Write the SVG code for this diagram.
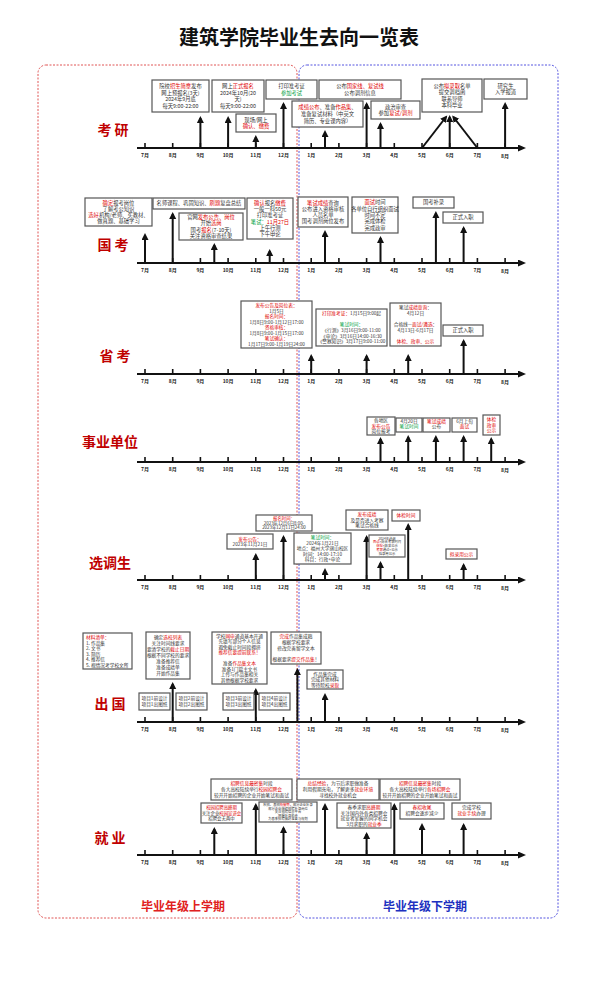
<svg xmlns="http://www.w3.org/2000/svg" width="599" height="999" viewBox="0 0 599 999">
<defs>
<style>
.t{font-family:"Noto Sans CJK SC","Noto Sans",sans-serif;font-size:5.3px;fill:#333;text-anchor:middle}
.s{font-size:4.7px}
.xs{font-size:3.3px}
.r{fill:#e00000}
.g{fill:#00a040}
.bx{fill:#fff;stroke:#555;stroke-width:1.2}
.ax{stroke:#111;stroke-width:2;fill:none}
.tk{stroke:#111;stroke-width:1.6}
.ar{stroke:#111;stroke-width:2;fill:none;marker-end:url(#ah)}
.ml{font-family:"Noto Sans CJK SC",sans-serif;font-size:5px;font-weight:700;fill:#222;text-anchor:middle}
.rl{font-family:"Noto Sans CJK SC",serif;font-size:14px;font-weight:700;fill:#c00000;text-anchor:middle}
</style>
<marker id="ah" markerWidth="8" markerHeight="8" refX="5" refY="3.5" orient="auto" markerUnits="userSpaceOnUse"><path d="M0,0 L7,3.5 L0,7 z" fill="#111"/></marker>
<marker id="axh" markerWidth="9" markerHeight="8" refX="2" refY="3.5" orient="auto" markerUnits="userSpaceOnUse"><path d="M0,0 L8,3.5 L0,7 z" fill="#111"/></marker>
<g id="axis">
<line class="ax" x1="137" y1="0" x2="520" y2="0" marker-end="url(#axh)"/>
<g class="tk"><line x1="145" y1="-5" x2="145" y2="0"/><line x1="172.7" y1="-5" x2="172.7" y2="0"/><line x1="200.4" y1="-5" x2="200.4" y2="0"/><line x1="228.1" y1="-5" x2="228.1" y2="0"/><line x1="255.8" y1="-5" x2="255.8" y2="0"/><line x1="283.5" y1="-5" x2="283.5" y2="0"/><line x1="311.2" y1="-5" x2="311.2" y2="0"/><line x1="338.9" y1="-5" x2="338.9" y2="0"/><line x1="366.6" y1="-5" x2="366.6" y2="0"/><line x1="394.3" y1="-5" x2="394.3" y2="0"/><line x1="422" y1="-5" x2="422" y2="0"/><line x1="449.7" y1="-5" x2="449.7" y2="0"/><line x1="477.4" y1="-5" x2="477.4" y2="0"/><line x1="505.1" y1="-5" x2="505.1" y2="0"/></g>
<g class="ml"><text x="145" y="9">7月</text><text x="172.7" y="9">8月</text><text x="200.4" y="9">9月</text><text x="228.1" y="9">10月</text><text x="255.8" y="9">11月</text><text x="283.5" y="9">12月</text><text x="311.2" y="9">1月</text><text x="338.9" y="9">2月</text><text x="366.6" y="9">3月</text><text x="394.3" y="9">4月</text><text x="422" y="9">5月</text><text x="449.7" y="9">6月</text><text x="477.4" y="9">7月</text><text x="505.1" y="10">8月</text></g>
</g>
</defs>
<rect width="599" height="999" fill="#fff"/>
<text x="299" y="45" font-family="Noto Sans CJK SC,sans-serif" font-size="20" font-weight="700" fill="#111" text-anchor="middle">建筑学院毕业生去向一览表</text>
<g id="semesters">
<rect x="38" y="65" width="259" height="853" rx="8" fill="none" stroke="#e05555" stroke-width="1" stroke-dasharray="2,1.5"/>
<rect x="299" y="65" width="259" height="853" rx="8" fill="none" stroke="#5555e0" stroke-width="1" stroke-dasharray="2,1.5"/>
<text x="183" y="911" font-family="Noto Sans CJK SC,sans-serif" font-size="12" font-weight="700" fill="#e02020" text-anchor="middle">毕业年级上学期</text>
<text x="425" y="911" font-family="Noto Sans CJK SC,sans-serif" font-size="12" font-weight="700" fill="#2030c0" text-anchor="middle">毕业年级下学期</text>
</g>
<g id="row-labels">
<text class="rl" x="113" y="135">考 研</text>
<text class="rl" x="113" y="250">国 考</text>
<text class="rl" x="115" y="361">省 考</text>
<text class="rl" x="110" y="447">事业单位</text>
<text class="rl" x="110" y="568">选调生</text>
<text class="rl" x="110" y="709">出 国</text>
<text class="rl" x="110" y="843">就 业</text>
</g>
<g id="timelines">
<use href="#axis" x="0" y="148"/>
<use href="#axis" x="0" y="263"/>
<use href="#axis" x="0" y="374"/>
<use href="#axis" x="0" y="462"/>
<use href="#axis" x="0" y="580"/>
<use href="#axis" x="0" y="722"/>
<use href="#axis" x="0" y="855"/>
</g>
<g id="connectors">
<line class="ar" x1="200.4" y1="148" x2="200.4" y2="118"/>
<line class="ar" x1="228.1" y1="148" x2="228.1" y2="118"/>
<line class="ar" x1="255.8" y1="148" x2="255.8" y2="137"/>
<line class="ar" x1="283.5" y1="148" x2="283.5" y2="104"/>
<line class="ar" x1="325" y1="148" x2="325" y2="132"/>
<line class="ar" x1="366.6" y1="148" x2="366.6" y2="104"/>
<line class="ar" x1="380.5" y1="148" x2="380.5" y2="124"/>
<line class="ar" x1="422" y1="148" x2="446" y2="117"/>
<line class="ar" x1="449.7" y1="148" x2="449.7" y2="117"/>
<line class="ar" x1="477.4" y1="148" x2="453.4" y2="117"/>
<line class="ar" x1="505.1" y1="148" x2="505.1" y2="104"/>
<line class="ar" x1="145" y1="263" x2="145" y2="235"/>
<line class="ar" x1="172.7" y1="263" x2="172.7" y2="214"/>
<line class="ar" x1="214.3" y1="263" x2="214.3" y2="245"/>
<line class="ar" x1="269.7" y1="263" x2="269.7" y2="251"/>
<line class="ar" x1="325" y1="263" x2="325" y2="232"/>
<line class="ar" x1="380.5" y1="263" x2="380.5" y2="238"/>
<line class="ar" x1="435.9" y1="263" x2="435.9" y2="213"/>
<line class="ar" x1="463.6" y1="263" x2="463.6" y2="228"/>
<line class="ar" x1="311.2" y1="374" x2="311.2" y2="356"/>
<line class="ar" x1="366.6" y1="374" x2="366.6" y2="356"/>
<line class="ar" x1="408.2" y1="374" x2="408.2" y2="356"/>
<line class="ar" x1="463.6" y1="374" x2="463.6" y2="341"/>
<line class="ar" x1="380.5" y1="462" x2="380.5" y2="439"/>
<line class="ar" x1="408.2" y1="462" x2="408.2" y2="437"/>
<line class="ar" x1="435.9" y1="462" x2="435.9" y2="437"/>
<line class="ar" x1="463.6" y1="462" x2="463.6" y2="437"/>
<line class="ar" x1="491.2" y1="462" x2="491.2" y2="439"/>
<line class="ar" x1="255.8" y1="580" x2="255.8" y2="555"/>
<line class="ar" x1="283.5" y1="580" x2="283.5" y2="537"/>
<line class="ar" x1="325" y1="580" x2="325" y2="570"/>
<line class="ar" x1="366.6" y1="580" x2="366.6" y2="537"/>
<line class="ar" x1="380.5" y1="580" x2="380.5" y2="563"/>
<line class="ar" x1="408.2" y1="580" x2="408.2" y2="525"/>
<line class="ar" x1="463.6" y1="580" x2="463.6" y2="565"/>
<line class="ar" x1="172.7" y1="722" x2="172.7" y2="684"/>
<line class="ar" x1="255.8" y1="722" x2="255.8" y2="690"/>
<line class="ar" x1="297.4" y1="722" x2="297.4" y2="670"/>
<line class="ar" x1="325" y1="722" x2="325" y2="695"/>
<line class="ar" x1="214.3" y1="855" x2="214.3" y2="829"/>
<line class="ar" x1="255.8" y1="855" x2="255.8" y2="805"/>
<line class="ar" x1="283.5" y1="855" x2="283.5" y2="828"/>
<line class="ar" x1="325" y1="855" x2="325" y2="805"/>
<line class="ar" x1="366.6" y1="855" x2="366.6" y2="834"/>
<line class="ar" x1="394.3" y1="855" x2="394.3" y2="805"/>
<line class="ar" x1="422" y1="855" x2="422" y2="825"/>
<line class="ar" x1="463.6" y1="855" x2="463.6" y2="825"/>
</g>
<!-- 考研 -->
<g id="ky-1"><rect class="bx" x="152" y="80" width="57" height="32"/><text class="t"><tspan x="180.5" y="88">院校<tspan class="r">招生简章</tspan>发布</tspan><tspan x="180.5" y="94.6">网上预报名(3天)</tspan><tspan x="180.5" y="101.2">2024年9月底</tspan><tspan x="180.5" y="107.8">每天9:00-22:00</tspan></text></g>
<g id="ky-2"><rect class="bx" x="212" y="80" width="52" height="32"/><text class="t"><tspan x="238" y="88">网上<tspan class="r">正式报名</tspan></tspan><tspan x="238" y="94.6">2024年10月(20</tspan><tspan x="238" y="101.2">天)</tspan><tspan x="238" y="107.8">每天9:00-22:00</tspan></text></g>
<g id="ky-3"><rect class="bx" x="236" y="114" width="40" height="18"/><text class="t"><tspan x="256" y="121.6">现场/网上</tspan><tspan x="256" y="128.2" class="r">确认、缴费</tspan></text></g>
<g id="ky-4"><rect class="bx" x="266" y="80" width="51" height="19"/><text class="t"><tspan x="291.5" y="88.1">打印准考证</tspan><tspan x="291.5" y="94.7" class="g">参加考试</tspan></text></g>
<g id="ky-5"><rect class="bx" x="292" y="101" width="71" height="26"/><text class="t"><tspan x="327.5" y="109.3"><tspan class="r">成绩公布</tspan>、准备<tspan class="r">作品集</tspan>、</tspan><tspan x="327.5" y="115.9">准备复试材料（中英文</tspan><tspan x="327.5" y="122.5">简历、专业课内容）</tspan></text></g>
<g id="ky-6"><rect class="bx" x="319" y="80" width="82" height="19"/><text class="t"><tspan x="360" y="88.1">公布<tspan class="r">国家线、复试线</tspan></tspan><tspan x="360" y="94.7">公布调剂信息</tspan></text></g>
<g id="ky-7"><rect class="bx" x="371" y="101" width="49" height="18"/><text class="t"><tspan x="395.5" y="108.6">政治审查</tspan><tspan x="395.5" y="115.2">参加<tspan class="r">复试/调剂</tspan></tspan></text></g>
<g id="ky-8"><rect class="bx" x="422" y="79" width="60" height="33"/><text class="t"><tspan x="452" y="87.5">公布<tspan class="r">拟录取</tspan>名单</tspan><tspan x="452" y="94.1">提交调档函</tspan><tspan x="452" y="100.7">联系导师</tspan><tspan x="452" y="107.3">本科毕业</tspan></text></g>
<g id="ky-9"><rect class="bx" x="484" y="79" width="43" height="20"/><text class="t"><tspan x="505.5" y="87.6">研究生</tspan><tspan x="505.5" y="94.2">入学报道</tspan></text></g>
<!-- 国考 -->
<g id="gk-1"><rect class="bx" x="85" y="198" width="67" height="28"/><text class="t"><tspan x="118.5" y="204.5"><tspan class="r">确定</tspan>报考岗位</tspan><tspan x="118.5" y="210.8">了解考公知识</tspan><tspan x="118.5" y="217.1"><tspan class="r">选好</tspan>机构/老师、买教材、</tspan><tspan x="118.5" y="223.4">做真题、基础学习</tspan></text></g>
<g id="gk-2"><rect class="bx" x="153" y="198" width="92" height="11"/><text class="t"><tspan x="199" y="205.4">名师课程、巩固知识、<tspan class="r">刷题</tspan>复盘总结</tspan></text></g>
<g id="gk-3"><rect class="bx" x="179" y="213" width="64" height="27"/><text class="t"><tspan x="211" y="219.1">官网<tspan class="r">发布公告、岗位</tspan></tspan><tspan x="211" y="225.3">开始<tspan class="r">选岗</tspan></tspan><tspan x="211" y="231.5">国考<tspan class="r">报名</tspan>(7-10天)</tspan><tspan x="211" y="237.7">关注资格审查结果</tspan></text></g>
<g id="gk-4"><rect class="bx" x="247" y="198" width="46" height="41"/><text class="t"><tspan x="270" y="204.7"><tspan class="r">确认</tspan>报名<tspan class="r">缴费</tspan></tspan><tspan x="270" y="211">一般一科50元</tspan><tspan x="270" y="217.3">打印准考证</tspan><tspan x="270" y="223.6"><tspan class="g">笔试：</tspan><tspan class="r">11月27日</tspan></tspan><tspan x="270" y="229.9">上午行测</tspan><tspan x="270" y="236.2">下午申论</tspan></text></g>
<g id="gk-5"><rect class="bx" x="298" y="197" width="50" height="30"/><text class="t"><tspan x="323" y="204.5"><tspan class="r">笔试成绩</tspan>查询</tspan><tspan x="323" y="210.8">公布进入资格审核</tspan><tspan x="323" y="217.1">人员名单</tspan><tspan x="323" y="223.4">国考调剂岗位发布</tspan></text></g>
<g id="gk-6"><rect class="bx" x="352" y="197" width="46" height="36"/><text class="t"><tspan x="375" y="204.3"><tspan class="r">面试</tspan>时间</tspan><tspan x="375" y="210.6">各单位自行组织面试</tspan><tspan x="375" y="216.9">时间不定</tspan><tspan x="375" y="223.2">完成体检</tspan><tspan x="375" y="229.5">完成政审</tspan></text></g>
<g id="gk-7"><rect class="bx" x="413" y="197" width="41" height="11"/><text class="t"><tspan x="433.5" y="204.4">国考补录</tspan></text></g>
<g id="gk-8"><rect class="bx" x="443" y="212" width="40" height="11"/><text class="t"><tspan x="463" y="219.4">正式入职</tspan></text></g>
<!-- 省考 -->
<g id="sk-1"><rect class="bx" x="241" y="301" width="71" height="47"/><text class="t s"><tspan x="276.5" y="307" class="r">发布公告及岗位表：</tspan><tspan x="276.5" y="312.5">1月5日</tspan><tspan x="276.5" y="318" class="r">报名时间：</tspan><tspan x="276.5" y="323.5">1月8日9:00-1月12日17:00</tspan><tspan x="276.5" y="329" class="r">资格审核：</tspan><tspan x="276.5" y="334.5">1月8日9:00-1月15日17:00</tspan><tspan x="276.5" y="340" class="r">笔试确认：</tspan><tspan x="276.5" y="345.5">1月17日9:00-1月19日24:00</tspan></text></g>
<g id="sk-2"><rect class="bx" x="316" y="309" width="71" height="37"/><text class="t s"><tspan x="351.5" y="315.2"><tspan class="r">打印准考证：</tspan>1月15日9:00起</tspan><tspan x="351.5" y="326.4" class="g">笔试时间：</tspan><tspan x="351.5" y="332">《行测》3月16日9:00-11:00</tspan><tspan x="351.5" y="337.6">《申论》3月16日14:00-16:30</tspan><tspan x="351.5" y="343.2">《警察知识》3月17日9:00-11:00</tspan></text></g>
<g id="sk-3"><rect class="bx" x="390" y="303" width="51" height="43"/><text class="t s"><tspan x="415.5" y="309.4">笔试<tspan class="r">成绩查询</tspan>：</tspan><tspan x="415.5" y="315">4月12日</tspan><tspan x="415.5" y="326.2">合格线—<tspan class="r">面试/遴选</tspan>：</tspan><tspan x="415.5" y="331.8">4月13日-6月17日</tspan><tspan x="415.5" y="343" class="r">体检、政审、公示</tspan></text></g>
<g id="sk-4"><rect class="bx" x="443" y="325" width="40" height="11"/><text class="t"><tspan x="463" y="332.4">正式入职</tspan></text></g>
<!-- 事业单位 -->
<g id="sy-1"><rect class="bx" x="367" y="417" width="28" height="18"/><text class="t s"><tspan x="381" y="422.3">各地区</tspan><tspan x="381" y="427.6" class="r">发布公告</tspan><tspan x="381" y="432.9">岗位报考</tspan></text></g>
<g id="sy-2"><rect class="bx" x="396" y="418" width="26" height="14"/><text class="t s"><tspan x="409" y="423">4月20日</tspan><tspan x="409" y="428.3" class="g">笔试时间</tspan></text></g>
<g id="sy-3"><rect class="bx" x="423" y="418" width="27" height="14"/><text class="t s"><tspan x="436.5" y="423" class="r">笔试成绩</tspan><tspan x="436.5" y="428.3">公布</tspan></text></g>
<g id="sy-4"><rect class="bx" x="452" y="418" width="25" height="14"/><text class="t s"><tspan x="464.5" y="423">6月上旬</tspan><tspan x="464.5" y="428.3" class="r">面试</tspan></text></g>
<g id="sy-5"><rect class="bx" x="483" y="415" width="17" height="20"/><text class="t s r"><tspan x="491.5" y="421.3">体检</tspan><tspan x="491.5" y="426.6">政审</tspan><tspan x="491.5" y="431.9">公示</tspan></text></g>
<!-- 选调生 -->
<g id="xd-1"><rect class="bx" x="227" y="534" width="46" height="15"/><text class="t s"><tspan x="250" y="540.5" class="r">发布公告：</tspan><tspan x="250" y="545.8">2023年11月21日</tspan></text></g>
<g id="xd-2"><rect class="bx" x="256" y="515" width="56" height="16"/><text class="t" style="font-size:4.4px"><tspan x="284" y="519.7" class="r">报名时间：</tspan><tspan x="284" y="524.5">2023年12月6日8:00-</tspan><tspan x="284" y="529.3">2023年12月11日24:00</tspan></text></g>
<g id="xd-3"><rect class="bx" x="294" y="533" width="57" height="31"/><text class="t s"><tspan x="322.5" y="539" class="g">笔试时间：</tspan><tspan x="322.5" y="544.6">2024年1月21日</tspan><tspan x="322.5" y="550.2">地点：福州大学旗山校区</tspan><tspan x="322.5" y="555.8">时间：14:00-17:10</tspan><tspan x="322.5" y="561.4">科目：行政+申论</tspan></text></g>
<g id="xd-4"><rect class="bx" x="346" y="510" width="42" height="20"/><text class="t s"><tspan x="367" y="516.2" class="r">发布成绩</tspan><tspan x="367" y="521.7">及是否进入考察</tspan><tspan x="367" y="527.2">笔试合格线</tspan></text></g>
<g id="xd-5"><rect class="bx" x="369" y="535" width="36" height="22"/><text class="t xs"><tspan x="387" y="539.6">2024年选调</tspan><tspan x="387" y="543.4"><tspan class="r">面试</tspan>+综合考察时间</tspan><tspan x="387" y="547.2"><tspan class="r">体检</tspan>+结果公示</tspan><tspan x="387" y="551"><tspan class="r">考察</tspan>通过+公示</tspan><tspan x="387" y="554.8">拟录用公示</tspan></text></g>
<g id="xd-6"><rect class="bx" x="392" y="510" width="28" height="11"/><text class="t s"><tspan x="406" y="517.2" class="r">体检时间</tspan></text></g>
<g id="xd-7"><rect class="bx" x="446" y="549" width="31" height="10"/><text class="t s"><tspan x="461.5" y="555.7" class="r">拟录用公示</tspan></text></g>
<!-- 出国 -->
<g id="cg-1"><rect class="bx" x="83" y="633" width="49" height="36"/><text class="t s" style="text-anchor:start"><tspan x="86" y="639" class="r">材料清单：</tspan><tspan x="86" y="644.5">1. 作品集</tspan><tspan x="86" y="650">2. 文书</tspan><tspan x="86" y="655.5">3. 简历</tspan><tspan x="86" y="661">4. 推荐信</tspan><tspan x="86" y="666.5">5. 视情况考学校文所</tspan></text></g>
<g id="cg-2"><rect class="bx" x="146" y="632" width="44" height="47"/><text class="t s"><tspan x="168" y="639.2">确定<tspan class="r">选校列表</tspan></tspan><tspan x="168" y="645.2">关注时间线要求</tspan><tspan x="168" y="651.2">要清学校的<tspan class="r">截止日期</tspan></tspan><tspan x="168" y="657.2">根据不同学校的要求</tspan><tspan x="168" y="663.2">准备推荐信</tspan><tspan x="168" y="669.2">准备成绩单</tspan><tspan x="168" y="675.2">开始作品集</tspan></text></g>
<g id="cg-3"><rect class="bx" x="212" y="632" width="55" height="52"/><text class="t s"><tspan x="239.5" y="637.7">学校<tspan class="r">网申</tspan>通道基本开通</tspan><tspan x="239.5" y="643.2">先填写部分个人信息</tspan><tspan x="239.5" y="648.7">避免截止时间段拥挤</tspan><tspan x="239.5" y="654.2" class="r">推荐信要提前联系！</tspan><tspan x="239.5" y="665.2">准备<tspan class="r">作品集文本</tspan></tspan><tspan x="239.5" y="670.7">准备1门篇主文书</tspan><tspan x="239.5" y="676.2">上传与作品集相关</tspan><tspan x="239.5" y="681.7">其他根据学校要求</tspan></text></g>
<g id="cg-4"><rect class="bx" x="271" y="632" width="50" height="32"/><text class="t s"><tspan x="296" y="638.1"><tspan class="r">完成</tspan>作品集成稿</tspan><tspan x="296" y="643.9">根据学校要求</tspan><tspan x="296" y="649.7">修改完善留学文本</tspan><tspan x="296" y="661.3">根据要求<tspan class="r">提交作品集</tspan>！</tspan></text></g>
<g id="cg-5"><rect class="bx" x="307" y="670" width="36" height="19"/><text class="t s"><tspan x="325" y="675.9">作品集完成</tspan><tspan x="325" y="681.2">完成其他材料</tspan><tspan x="325" y="686.5">等待院校<tspan class="r">录取</tspan></tspan></text></g>
<g id="cg-6"><rect class="bx" x="139" y="693" width="31" height="17"/><text class="t s"><tspan x="154.5" y="700.4">项目1前设计</tspan><tspan x="154.5" y="706">项目1出图纸</tspan></text></g>
<g id="cg-7"><rect class="bx" x="176" y="693" width="31" height="17"/><text class="t s"><tspan x="191.5" y="700.4">项目2前设计</tspan><tspan x="191.5" y="706">项目2出图纸</tspan></text></g>
<g id="cg-8"><rect class="bx" x="223" y="693" width="31" height="17"/><text class="t s"><tspan x="238.5" y="700.4">项目3前设计</tspan><tspan x="238.5" y="706">项目3出图纸</tspan></text></g>
<g id="cg-9"><rect class="bx" x="259" y="693" width="31" height="17"/><text class="t s"><tspan x="274.5" y="700.4">项目4前设计</tspan><tspan x="274.5" y="706">项目4出图纸</tspan></text></g>
<!-- 就业 -->
<g id="jy-1"><rect class="bx" x="201" y="803" width="41" height="20"/><text class="t" style="font-size:4.4px"><tspan x="221.5" y="809.2" class="r">校园招聘高峰期</tspan><tspan x="221.5" y="814.7">关注企业<tspan class="r">校园宣讲会</tspan></tspan><tspan x="221.5" y="820.2">招聘会无两中</tspan></text></g>
<g id="jy-2"><rect class="bx" x="211" y="779" width="81" height="21"/><text class="t s"><tspan x="251.5" y="785.4"><tspan class="r">招聘信息最密集</tspan>时段</tspan><tspan x="251.5" y="791.2">各大高校陆续举行<tspan class="r">校园招聘会</tspan></tspan><tspan x="251.5" y="797">较开开始招聘的企业开始笔试和面试</tspan></text></g>
<g id="jy-3"><rect class="bx" x="259" y="802" width="58" height="20"/><text class="t xs"><tspan x="288" y="805.9">秋招、春招<tspan class="r">衔接期</tspan>，部分企业补录</tspan><tspan x="288" y="809.5">部分企业继续招聘补录岗位</tspan><tspan x="288" y="813.1">关注招聘信息平台</tspan><tspan x="288" y="816.7">把握补录机会</tspan><tspan x="288" y="820.3">为春季招聘做好准备与规划</tspan></text></g>
<g id="jy-4"><rect class="bx" x="297" y="779" width="82" height="21"/><text class="t s"><tspan x="338" y="785.4"><tspan class="r">总结经验</tspan>，为节后求职做准备</tspan><tspan x="338" y="791.2">利用假期充电，了解更多<tspan class="r">就业环境</tspan></tspan><tspan x="338" y="797">寻找校外就业机会</tspan></text></g>
<g id="jy-5"><rect class="bx" x="337" y="803" width="54" height="25"/><text class="t s"><tspan x="364" y="809">春季求职<tspan class="r">高峰期</tspan></tspan><tspan x="364" y="814.5">关注国内外各类招聘会</tspan><tspan x="364" y="820">就业者掌握的同学机会</tspan><tspan x="364" y="825.5">3月求职的<tspan class="r">就业季</tspan></tspan></text></g>
<g id="jy-6"><rect class="bx" x="380" y="779" width="80" height="21"/><text class="t s"><tspan x="420" y="785.4"><tspan class="r">招聘信息最密集</tspan>时段</tspan><tspan x="420" y="791.2">各大高校陆续举行<tspan class="r">各场招聘会</tspan></tspan><tspan x="420" y="797">较开开始招聘的企业开始笔试和面试</tspan></text></g>
<g id="jy-7"><rect class="bx" x="400" y="803" width="44" height="16"/><text class="t s"><tspan x="422" y="809" class="r">春招收尾</tspan><tspan x="422" y="814.5">招聘会逐步减少</tspan></text></g>
<g id="jy-8"><rect class="bx" x="452" y="803" width="39" height="16"/><text class="t s"><tspan x="471.5" y="809">完成学校</tspan><tspan x="471.5" y="814.5"><tspan class="r">就业手续</tspan>办理</tspan></text></g>
</svg>
